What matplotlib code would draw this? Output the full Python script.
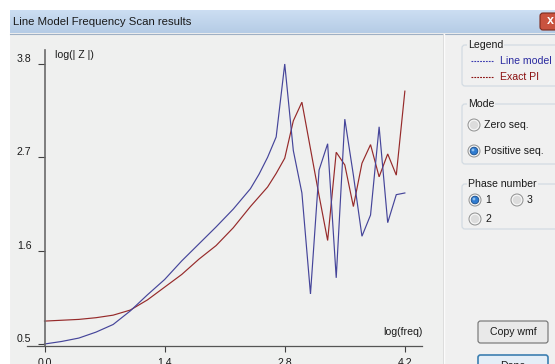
import matplotlib
matplotlib.use("Agg")
import matplotlib.pyplot as plt
import numpy as np
from matplotlib.patches import Rectangle, FancyBboxPatch, Circle

plt.rcParams['font.family'] = ['Liberation Sans', 'DejaVu Sans']

# ---- data: log|Z| versus log(freq) ----
line_model_x = [0.0, 0.2, 0.4, 0.6, 0.8, 1.0, 1.2, 1.4, 1.6, 1.8, 2.0, 2.2, 2.4, 2.5,
                2.6, 2.7, 2.8, 2.9, 3.0, 3.1, 3.2, 3.3, 3.4, 3.5, 3.6, 3.7, 3.8, 3.9,
                4.0, 4.1, 4.2]
line_model_y = [0.50, 0.53, 0.57, 0.64, 0.73, 0.89, 1.08, 1.26, 1.48, 1.68, 1.88, 2.09,
                2.33, 2.50, 2.70, 2.94, 3.80, 2.78, 2.28, 1.09, 2.55, 2.86, 1.28, 3.15,
                2.49, 1.77, 2.02, 3.06, 1.93, 2.26, 2.28]

exact_pi_x = [0.0, 0.2, 0.4, 0.6, 0.8, 1.0, 1.2, 1.4, 1.6, 1.8, 2.0, 2.2, 2.4, 2.6,
              2.7, 2.8, 2.9, 3.0, 3.1, 3.2, 3.3, 3.4, 3.5, 3.6, 3.7, 3.8, 3.9, 4.0,
              4.1, 4.2]
exact_pi_y = [0.77, 0.78, 0.79, 0.81, 0.84, 0.90, 1.02, 1.17, 1.32, 1.50, 1.66, 1.87,
              2.12, 2.35, 2.51, 2.69, 3.13, 3.35, 2.80, 2.25, 1.72, 2.76, 2.61, 2.12,
              2.63, 2.85, 2.47, 2.74, 2.49, 3.48]

x_ticks = [0.0, 1.4, 2.8, 4.2]
x_tick_labels = ["0.0", "1.4", "2.8", "4.2"]
y_ticks = [0.5, 1.6, 2.7, 3.8]
y_tick_labels = ["0.5", "1.6", "2.7", "3.8"]

BLUE = '#45459a'
RED = '#962a2a'
PANEL = '#eff0ef'
FS = 7.6

W, H = 555, 364
fig = plt.figure(figsize=(W / 100, H / 100), dpi=100)
fig.patch.set_facecolor('white')

# ---- window chrome drawn in pixel coordinates ----
bg = fig.add_axes([0, 0, 1, 1])
bg.set_xlim(0, W)
bg.set_ylim(H, 0)
bg.axis('off')

# title bar gradient
grad = np.linspace(0, 1, 40)[:, None]
top_c = np.array([0.80, 0.87, 0.95])
bot_c = np.array([0.71, 0.80, 0.90])
img = top_c[None, None, :] * (1 - grad[..., None]) + bot_c[None, None, :] * grad[..., None]
bg.imshow(img, extent=(10, W, 33, 10), aspect='auto', zorder=1)
bg.text(13, 22, "Line Model Frequency Scan results", fontsize=FS + 0.6,
        color='#1a1a1a', va='center', ha='left', zorder=3)
bg.add_patch(FancyBboxPatch((540, 13), 25, 17, boxstyle="round,pad=0,rounding_size=3",
                            fc='#c9533f', ec='#7d2a1e', lw=0.8, zorder=3))
bg.text(550, 21.5, "x", fontsize=9, color='white', fontweight='bold',
        ha='center', va='center', zorder=4)

# client area
bg.add_patch(Rectangle((10, 33), W - 10, H - 33, fc='#f0f0f0', ec='none', zorder=1))
bg.plot([10, W], [33.5, 33.5], color='#9fb0c4', lw=0.8, zorder=2)
bg.add_patch(Rectangle((11, 34), 432, H - 34, fc=PANEL, ec='none', zorder=1))
bg.plot([443.5, 443.5], [34, H], color='#fbfbfb', lw=1.0, zorder=2)
bg.plot([442.5, 442.5], [34, H], color='#d9d9d9', lw=0.6, zorder=2)


def group_box(x0, y0, x1, y1, title):
    bg.add_patch(FancyBboxPatch((x0, y0), x1 - x0, y1 - y0,
                                boxstyle="round,pad=0,rounding_size=3",
                                fc='none', ec='#d3dbe2', lw=0.9, zorder=2))
    bg.text(x0 + 6, y0, title, fontsize=FS, color='#1a1a1a', ha='left', va='center',
            zorder=3, bbox=dict(boxstyle='square,pad=0.1', fc='#f0f0f0', ec='none'))


def radio(x, y, label, checked=False):
    bg.add_patch(Circle((x, y), 6.0, fc='#f6f6f6', ec='#8e8f8f', lw=0.7, zorder=3))
    bg.add_patch(Circle((x, y), 4.2, fc='#dcdcdc', ec='none', zorder=3))
    if checked:
        bg.add_patch(Circle((x, y), 3.8, fc='#2f7bd0', ec='#1b4f8c', lw=0.6, zorder=4))
        bg.add_patch(Circle((x - 1, y - 1), 1.4, fc='#8cc0ef', ec='none', zorder=4))
    bg.text(x + 10, y, label, fontsize=FS, color='#1a1a1a', ha='left', va='center', zorder=3)


# legend group
group_box(462, 45, 575, 86, "Legend")
bg.plot([471, 494], [61, 61], color='#3a3ab0', lw=0.8, ls=(0, (1.6, 1.0)), zorder=3)
bg.text(500, 61, "Line model", fontsize=FS, color='#2a2aa0', ha='left', va='center', zorder=3)
bg.plot([471, 494], [77, 77], color='#8b1010', lw=0.8, ls=(0, (1.6, 1.0)), zorder=3)
bg.text(500, 77, "Exact PI", fontsize=FS, color='#8b1010', ha='left', va='center', zorder=3)

# mode group
group_box(462, 104, 575, 164, "Mode")
radio(474, 125, "Zero seq.")
radio(474, 151, "Positive seq.", checked=True)

# phase group
group_box(462, 184, 575, 229, "Phase number")
radio(475, 200, "1", checked=True)
radio(517, 200, "3")
radio(475, 219, "2")

# buttons
bg.add_patch(FancyBboxPatch((478, 321), 70, 22, boxstyle="round,pad=0,rounding_size=2.5",
                            fc='#e9e9e9', ec='#707070', lw=0.8, zorder=3))
bg.text(513, 332, "Copy wmf", fontsize=FS, color='#1a1a1a', ha='center', va='center', zorder=4)
bg.add_patch(FancyBboxPatch((478, 355), 70, 22, boxstyle="round,pad=0,rounding_size=2.5",
                            fc='#e4eef7', ec='#3c7fb1', lw=1.2, zorder=3))
bg.text(513, 366, "Done", fontsize=FS, color='#1a1a1a', ha='center', va='center', zorder=4)

# ---- plot axes ----
x0_px, x_scale = 44.5, 85.8
y38_px, y_scale = 64.0, 84.85
L, R, T, B = 27, 422, 50, 346
ax = fig.add_axes([L / W, (H - B) / H, (R - L) / W, (B - T) / H])
ax.set_facecolor('none')
ax.set_zorder(5)
ax.set_xlim((L - x0_px) / x_scale, (R - x0_px) / x_scale)
ax.set_ylim(3.8 - (B - y38_px) / y_scale, 3.8 + (y38_px - T) / y_scale)

ax.plot(exact_pi_x, exact_pi_y, color=RED, lw=0.85, solid_joinstyle='miter')
ax.plot(line_model_x, line_model_y, color=BLUE, lw=0.85, solid_joinstyle='miter')

for s in ('top', 'right'):
    ax.spines[s].set_visible(False)
ax.spines['left'].set_position(('data', 0.0))
ax.spines['left'].set_color('#6a6a6a')
ax.spines['left'].set_linewidth(1.2)
ax.spines['bottom'].set_color('#555555')
ax.spines['bottom'].set_linewidth(0.9)

ax.set_xticks(x_ticks)
ax.set_xticklabels(x_tick_labels)
ax.set_yticks(y_ticks)
ax.set_yticklabels(y_tick_labels)
ax.tick_params(axis='x', direction='out', length=4.3, width=0.8, color='#404040',
               pad=4.0, labelsize=FS, labelcolor='#1a1a1a')
ax.tick_params(axis='y', direction='out', length=5.0, width=0.8, color='#404040',
               pad=4.3, labelsize=FS, labelcolor='#1a1a1a')
for lab in ax.get_yticklabels():
    lab.set_verticalalignment('bottom')

ax.text((55 - x0_px) / x_scale, 3.8 + (y38_px - 55) / y_scale, "log(| Z |)",
        fontsize=FS, color='#1a1a1a', ha='left', va='center')
ax.text((423 - x0_px) / x_scale, 3.8 - (332 - y38_px) / y_scale, "log(freq)",
        fontsize=FS, color='#1a1a1a', ha='right', va='center', clip_on=False)

fig.savefig("out.png", dpi=100, facecolor=fig.get_facecolor())
